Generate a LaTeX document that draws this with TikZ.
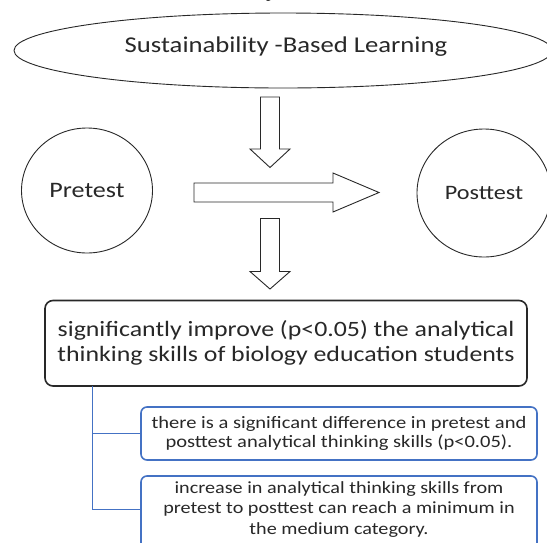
\documentclass[tikz,border=0pt]{standalone}
\usepackage{fontspec}
\setmainfont{Carlito}[FakeStretch=1.18]
\newfontfamily\serifcap{Liberation Serif}
\usetikzlibrary{shapes.geometric}
\definecolor{inkgray}{RGB}{40,40,40}
\definecolor{officeblue}{RGB}{68,114,196}
\tikzset{
  outline/.style={draw=inkgray, line width=0.9pt},
  blockarrow/.style={draw=inkgray, line width=0.9pt, fill=white, line join=miter},
  mainbox/.style={draw=inkgray, line width=1.6pt, rounded corners=8pt, fill=white,
    minimum width=482pt, minimum height=85.5pt, align=center, text=inkgray,
    font=\fontsize{21.9}{25}\selectfont},
  subbox/.style={draw=officeblue, line width=1.6pt, rounded corners=6pt, fill=white,
    minimum width=396pt, align=center, text=inkgray},
  blueline/.style={draw=officeblue, line width=1.7pt},
  lbl/.style={text=inkgray}
}
\begin{document}
\begin{tikzpicture}[x=1pt,y=-1pt]
\useasboundingbox (0,0) rectangle (547,542);
\fill[white] (0,0) rectangle (547,542);
\begin{scope}
\clip (0,0) rectangle (547,542);
% caption glyph running in from above
\node[anchor=base west, inner sep=0pt, font=\serifcap\fontsize{18}{20}\selectfont] (cap) at (266,-2.5) {p};

% top ellipse
\node[outline, ellipse, minimum width=538pt, minimum height=75pt, inner sep=0pt] (sbl) at (283,50.5) {};
\node[lbl, font=\fontsize{22.6}{26}\selectfont] (sbltxt) at (286,47) {Sustainability -Based Learning};

% pretest and posttest rings (slightly wider than tall)
\node[outline, ellipse, minimum width=131pt, minimum height=125pt, inner sep=0pt, lbl, font=\fontsize{22.1}{26}\selectfont] (pre) at (87,190.5) {Pretest};
\node[outline, ellipse, minimum width=134pt, minimum height=128pt, inner sep=0pt, lbl, font=\fontsize{20.5}{24}\selectfont] (post) at (484,193) {Posttest};

% block arrows
\draw[blockarrow] (260.5,97) -- (279.5,97) -- (279.5,149) -- (290,149) -- (270,167.5) -- (250,149) -- (260.5,149) -- cycle;
\draw[blockarrow] (194,183) -- (333,183) -- (333,173) -- (379,192.5) -- (333,212) -- (333,202) -- (194,202) -- cycle;
\draw[blockarrow] (260.5,218.5) -- (279.5,218.5) -- (279.5,271.5) -- (290,271.5) -- (270,289) -- (250,271.5) -- (260.5,271.5) -- cycle;

% result box and its two findings
\node[mainbox] (main) at (286,343.25) {significantly improve (p<0.05) the analytical\\thinking skills of biology education students};
\node[subbox, minimum height=53pt, font=\fontsize{17.4}{19.5}\selectfont] (f1) at (339,433.5) {there is a significant difference in pretest and\\posttest analytical thinking skills (p<0.05).};
% the second finding's frame runs on below the lower edge
\node[subbox, minimum height=80pt] (f2) at (339,516) {};
\node[lbl, align=center, font=\fontsize{17.1}{20.5}\selectfont] (f2txt) at (339,509.5) {increase in analytical thinking skills from\\pretest to posttest can reach a minimum in\\the medium category.};

\coordinate (trunk) at (92.5,386);
\draw[blueline] (trunk) |- (f1.west);
\draw[blueline] (trunk) |- (f2.west |- f2txt);
\end{scope}
\end{tikzpicture}
\end{document}
